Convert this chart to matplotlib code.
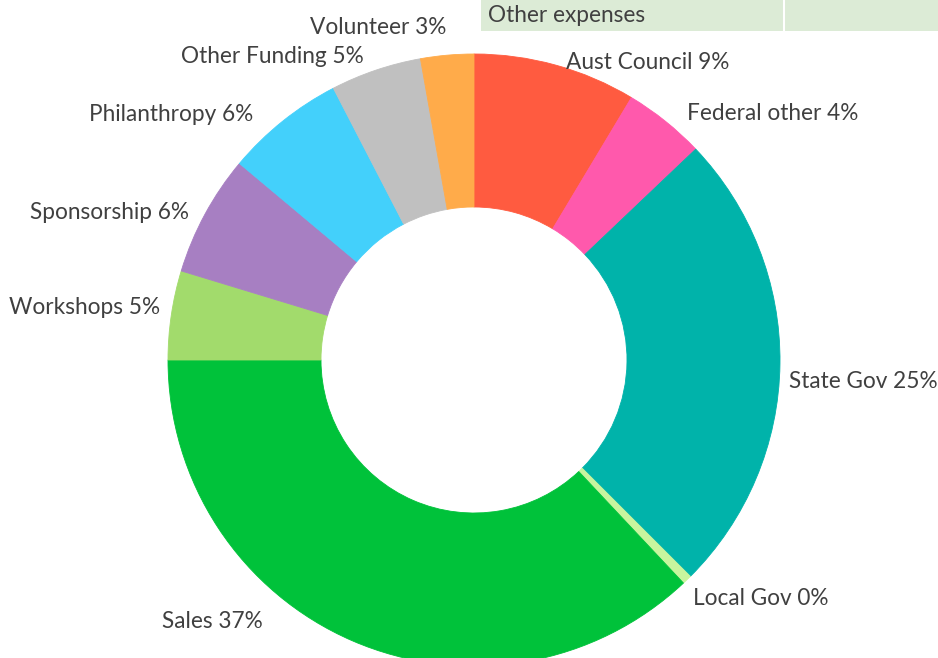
import numpy as np
import matplotlib
matplotlib.use("Agg")
import matplotlib.pyplot as plt
from matplotlib.patches import Rectangle

categories = ["Aust Council", "Federal other", "State Gov", "Local Gov", "Sales",
              "Workshops", "Sponsorship", "Philanthropy", "Other Funding", "Volunteer"]
values = [8.6, 4.3, 24.6, 0.5, 37.0, 4.7, 6.4, 6.3, 4.8, 2.8]
colors = ["#FF5B40", "#FF59AC", "#00B3AA", "#C8F59E", "#00C23A",
          "#A2DB6C", "#A77FC2", "#43D0FB", "#C0C0C0", "#FFAB4A"]
table_label = "Other expenses"

W, H = 938, 658
fig = plt.figure(figsize=(W / 100, H / 100), dpi=100)
ax = fig.add_axes([0, 0, 1, 1])

cx, cy, R = 474, 298, 306
wedges, _ = ax.pie(values, colors=colors, startangle=90, counterclock=False,
                   center=(cx, cy), radius=R,
                   wedgeprops=dict(width=R * 0.5, linewidth=0.6, edgecolor="none"))
for w, c in zip(wedges, colors):
    w.set_edgecolor(c)

ax.set_xlim(0, W)
ax.set_ylim(0, H)
ax.set_aspect("equal")
ax.axis("off")

font = "Lato"
tc = "#404040"
fs = 16.3

# label layout: (angle override in degrees clockwise from top or None, radius factor, ha, dx, dy)
layout = {
    "Aust Council": (None, 1.02, "left", 9, -3),
    "Federal other": (None, 1.04, "left", 14, -2),
    "State Gov": (None, 1.02, "left", 3, -18),
    "Local Gov": (None, 1.02, "left", 2, -14),
    "Sales": (219, 1.08, "right", -3, -5),
    "Workshops": (None, 1.02, "right", -5, 7),
    "Sponsorship": (None, 1.02, "right", -11, -1),
    "Philanthropy": (None, 1.02, "right", -26, 2),
    "Other Funding": (None, 1.02, "right", -10, 8),
    "Volunteer": (None, 1.02, "center", -68, 22),
}

total = sum(values)
cum = 0
for name, v in zip(categories, values):
    mid = (cum + v / 2) / total * 360
    cum += v
    ang, rf, ha, dx, dy = layout[name]
    a = np.deg2rad(ang if ang is not None else mid)
    x = cx + R * rf * np.sin(a) + dx
    y = cy + R * rf * np.cos(a) + dy
    ax.text(x, y, f"{name} {round(v):.0f}%", ha=ha, va="center",
            fontsize=fs, color=tc, family=font)

# table cell fragment at top
ax.add_patch(Rectangle((481, H - 31), W - 481, 31, facecolor="#DCEBD6", edgecolor="none", zorder=0))
ax.plot([784, 784], [H - 31, H], color="white", lw=1.5)
ax.text(488, H - 16, table_label, ha="left", va="center", fontsize=fs, color=tc, family=font)

fig.savefig("out.png", dpi=100)
